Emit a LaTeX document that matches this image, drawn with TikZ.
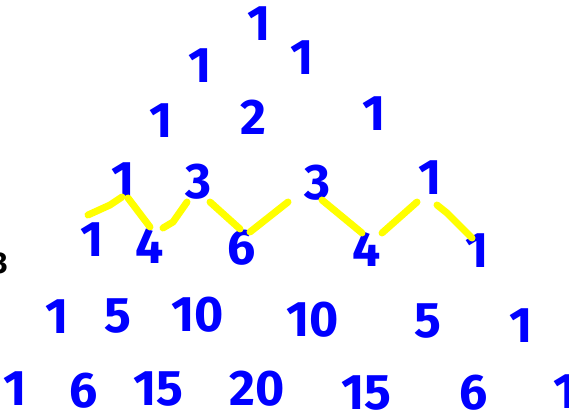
\documentclass[tikz,border=0pt]{standalone}
\usepackage{fontspec}
\setmainfont{Fira Sans}
\usetikzlibrary{positioning}
\definecolor{inkblue}{RGB}{0,0,255}
\definecolor{marker}{RGB}{255,255,0}

\begin{document}
\begin{tikzpicture}[
    x=1pt, y=-1pt,
    num/.style={inkblue, font=\fontsize{50}{50}\selectfont\bfseries, inner sep=0pt},
    zig/.style={marker, line width=7pt, line cap=round, line join=round}
  ]
  \useasboundingbox (0,0) rectangle (569,417);

  % Rows of the triangle
  \foreach \x/\y/\v/\name in {259/24/1/p00,
      200/66/1/p10, 302/58/1/p11,
      161/121/1/p20, 253/117/2/p21, 374/114/1/p22} {
    \node[num] (\name) at (\x,\y) {\v};
  }
  \foreach \x/\y/\v/\name in {123/180/1/p30, 198/182/3/p31, 317/183/3/p32, 430/178/1/p33,
      92/240/1/p40, 150/246/4/p41, 242/248/6/p42, 367/249/4/p43, 477/251/1/p44} {
    \node[num] (\name) at (\x,\y) {\v};
  }
  \foreach \x/\y/\v/\name in {57/317/1/p50, 118/316/5/p51, 198/315/10/p52,
      313/320/10/p53, 428/321/5/p54, 521/326/1/p55} {
    \node[num] (\name) at (\x,\y) {\v};
  }
  \foreach \x/\y/\v/\name in {15/389/1/p60, 84/391/6/p61, 158/389/15/p62, 257/389/20/p63,
      366/393/15/p64, 474/393/6/p65, 565/392/1/p66} {
    \node[num] (\name) at (\x,\y) {\v};
  }

  % Cut-off mark at the left edge
  \node[black, font=\fontsize{30}{30}\selectfont\bfseries, inner sep=0pt, anchor=east] (cut) at (8,263) {3};

  % Yellow zigzag under row 3
  \draw[zig] (88,215) -- (110,205) -- (122,197);
  \draw[zig] (128,198) -- (150,227);
  \draw[zig] (163,228) -- (173,222) -- (187,202);
  \draw[zig] (210,202) -- (240,229);
  \draw[zig] (250,232) -- (288,202);
  \draw[zig] (322,200) -- (362,233);
  \draw[zig] (382,233) -- (417,202);
  \draw[zig] (437,205) -- (447,213) -- (472,238);

\end{tikzpicture}
\end{document}
